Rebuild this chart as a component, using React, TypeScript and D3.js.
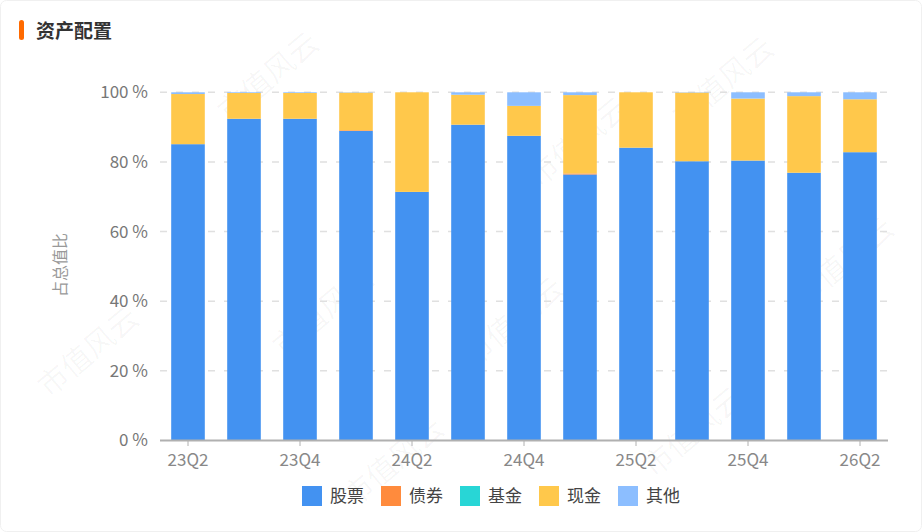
import React, { useEffect, useRef } from "react";
import * as d3 from "d3";

const quarters = [
  "23Q2", "23Q3", "23Q4", "24Q1", "24Q2", "24Q3", "24Q4",
  "25Q1", "25Q2", "25Q3", "25Q4", "26Q1", "26Q2",
];
const shownTicks = ["23Q2", "23Q4", "24Q2", "24Q4", "25Q2", "25Q4", "26Q2"];

const stocks = [85.1, 92.4, 92.4, 88.9, 71.4, 90.7, 87.5, 76.4, 84.1, 80.2, 80.4, 76.9, 82.8];
const bonds = [0, 0, 0, 0.2, 0, 0, 0, 0.3, 0, 0, 0, 0, 0];
const funds = [0, 0, 0, 0, 0, 0, 0, 0, 0, 0, 0, 0, 0];
const cash = [14.4, 7.4, 7.4, 10.8, 28.6, 8.6, 8.6, 22.5, 15.9, 19.7, 17.8, 22.0, 15.2];
const other = [0.5, 0.2, 0.2, 0.1, 0, 0.7, 3.9, 0.8, 0, 0.1, 1.8, 1.1, 2.0];

const seriesNames = ["股票", "债券", "基金", "现金", "其他"];
const seriesColors = ["#4392f1", "#ff8b3d", "#28d6d6", "#ffc84b", "#8cbeff"];
const yTicks = [0, 20, 40, 60, 80, 100];

type Row = { q: string; [k: string]: number | string };

const AssetChart: React.FC = () => {
  const svgRef = useRef<SVGSVGElement>(null);
  const width = 922;
  const height = 532;
  const font = "'Noto Sans CJK SC', 'Noto Sans', sans-serif";

  useEffect(() => {
    const svg = d3.select(svgRef.current);
    svg.selectAll("*").remove();

    const rows: Row[] = quarters.map((q, i) => ({
      q,
      股票: stocks[i],
      债券: bonds[i],
      基金: funds[i],
      现金: cash[i],
      其他: other[i],
    }));

    const x = d3.scaleBand().domain(quarters).range([160, 888])
      .paddingInner(0.4).paddingOuter(0.2);
    const y = d3.scaleLinear().domain([0, 100]).range([440.5, 92.3]);
    const color = d3.scaleOrdinal<string, string>().domain(seriesNames).range(seriesColors);

    // card
    svg.append("rect")
      .attr("x", 0.5).attr("y", 0.5)
      .attr("width", width - 1).attr("height", height - 1)
      .attr("rx", 6).attr("fill", "#fff").attr("stroke", "#f0f0f0");

    // watermark
    const marks = [
      [275, 85], [730, 90], [95, 360], [330, 320], [585, 150],
      [850, 270], [400, 470], [700, 440], [520, 330],
    ];
    const wm = svg.append("g").attr("pointer-events", "none");
    marks.forEach(([mx, my]) => {
      wm.append("text")
        .attr("transform", `translate(${mx},${my}) rotate(-40)`)
        .attr("text-anchor", "middle")
        .attr("font-family", font).attr("font-size", 30)
        .attr("fill", "#000").attr("fill-opacity", 0.035)
        .text("市值风云");
    });

    // title
    svg.append("rect")
      .attr("x", 19).attr("y", 20).attr("width", 5).attr("height", 20)
      .attr("rx", 2.5).attr("fill", "#ff6a00");
    svg.append("text")
      .attr("x", 36).attr("y", 38)
      .attr("font-family", font).attr("font-size", 19).attr("font-weight", 700)
      .attr("fill", "#333").text("资产配置");

    // grid + y labels
    const grid = svg.append("g");
    yTicks.forEach((t) => {
      if (t > 0) {
        grid.append("line")
          .attr("x1", 160).attr("x2", 888)
          .attr("y1", y(t)).attr("y2", y(t))
          .attr("stroke", "#e0e0e0").attr("stroke-width", 1.5)
          .attr("stroke-dasharray", "7 9");
      }
      grid.append("text")
        .attr("x", 148).attr("y", y(t)).attr("dy", "0.35em")
        .attr("text-anchor", "end")
        .attr("font-family", font).attr("font-size", 17)
        .attr("fill", "#777").text(`${t} %`);
    });

    svg.append("text")
      .attr("transform", `translate(66,265) rotate(-90)`)
      .attr("text-anchor", "middle")
      .attr("font-family", font).attr("font-size", 16)
      .attr("fill", "#999").text("占总值比");

    // stacked bars
    const stacked = d3.stack<Row>().keys(seriesNames)(rows);
    svg.append("g")
      .selectAll("g")
      .data(stacked)
      .enter()
      .append("g")
      .attr("fill", (d) => color(d.key))
      .selectAll("rect")
      .data((d) => d)
      .enter()
      .append("rect")
      .attr("x", (d) => x(d.data.q as string)!)
      .attr("width", x.bandwidth())
      .attr("y", (d) => y(d[1]))
      .attr("height", (d) => Math.max(0, y(d[0]) - y(d[1])));

    // x axis
    svg.append("line")
      .attr("x1", 160).attr("x2", 888)
      .attr("y1", 440.5).attr("y2", 440.5)
      .attr("stroke", "#b0b0b0").attr("stroke-width", 2);
    const xa = svg.append("g");
    shownTicks.forEach((q) => {
      const cx = x(q)! + x.bandwidth() / 2;
      xa.append("line")
        .attr("x1", cx).attr("x2", cx).attr("y1", 441).attr("y2", 446)
        .attr("stroke", "#b0b0b0");
      xa.append("text")
        .attr("x", cx).attr("y", 466)
        .attr("text-anchor", "middle")
        .attr("font-family", font).attr("font-size", 17)
        .attr("fill", "#888").text(q);
    });

    // legend
    const legend = svg.append("g");
    seriesNames.forEach((name, i) => {
      const lx = 302 + i * 79;
      legend.append("rect")
        .attr("x", lx).attr("y", 486).attr("width", 20).attr("height", 20)
        .attr("fill", color(name));
      legend.append("text")
        .attr("x", lx + 28).attr("y", 496).attr("dy", "0.35em")
        .attr("font-family", font).attr("font-size", 17)
        .attr("fill", "#444").text(name);
    });
  }, []);

  return (
    <svg
      ref={svgRef}
      width={width}
      height={height}
      viewBox={`0 0 ${width} ${height}`}
      style={{ position: "absolute", left: 0, top: 0 }}
    ></svg>
  );
};

export default function App() {
  return <AssetChart />;
}
